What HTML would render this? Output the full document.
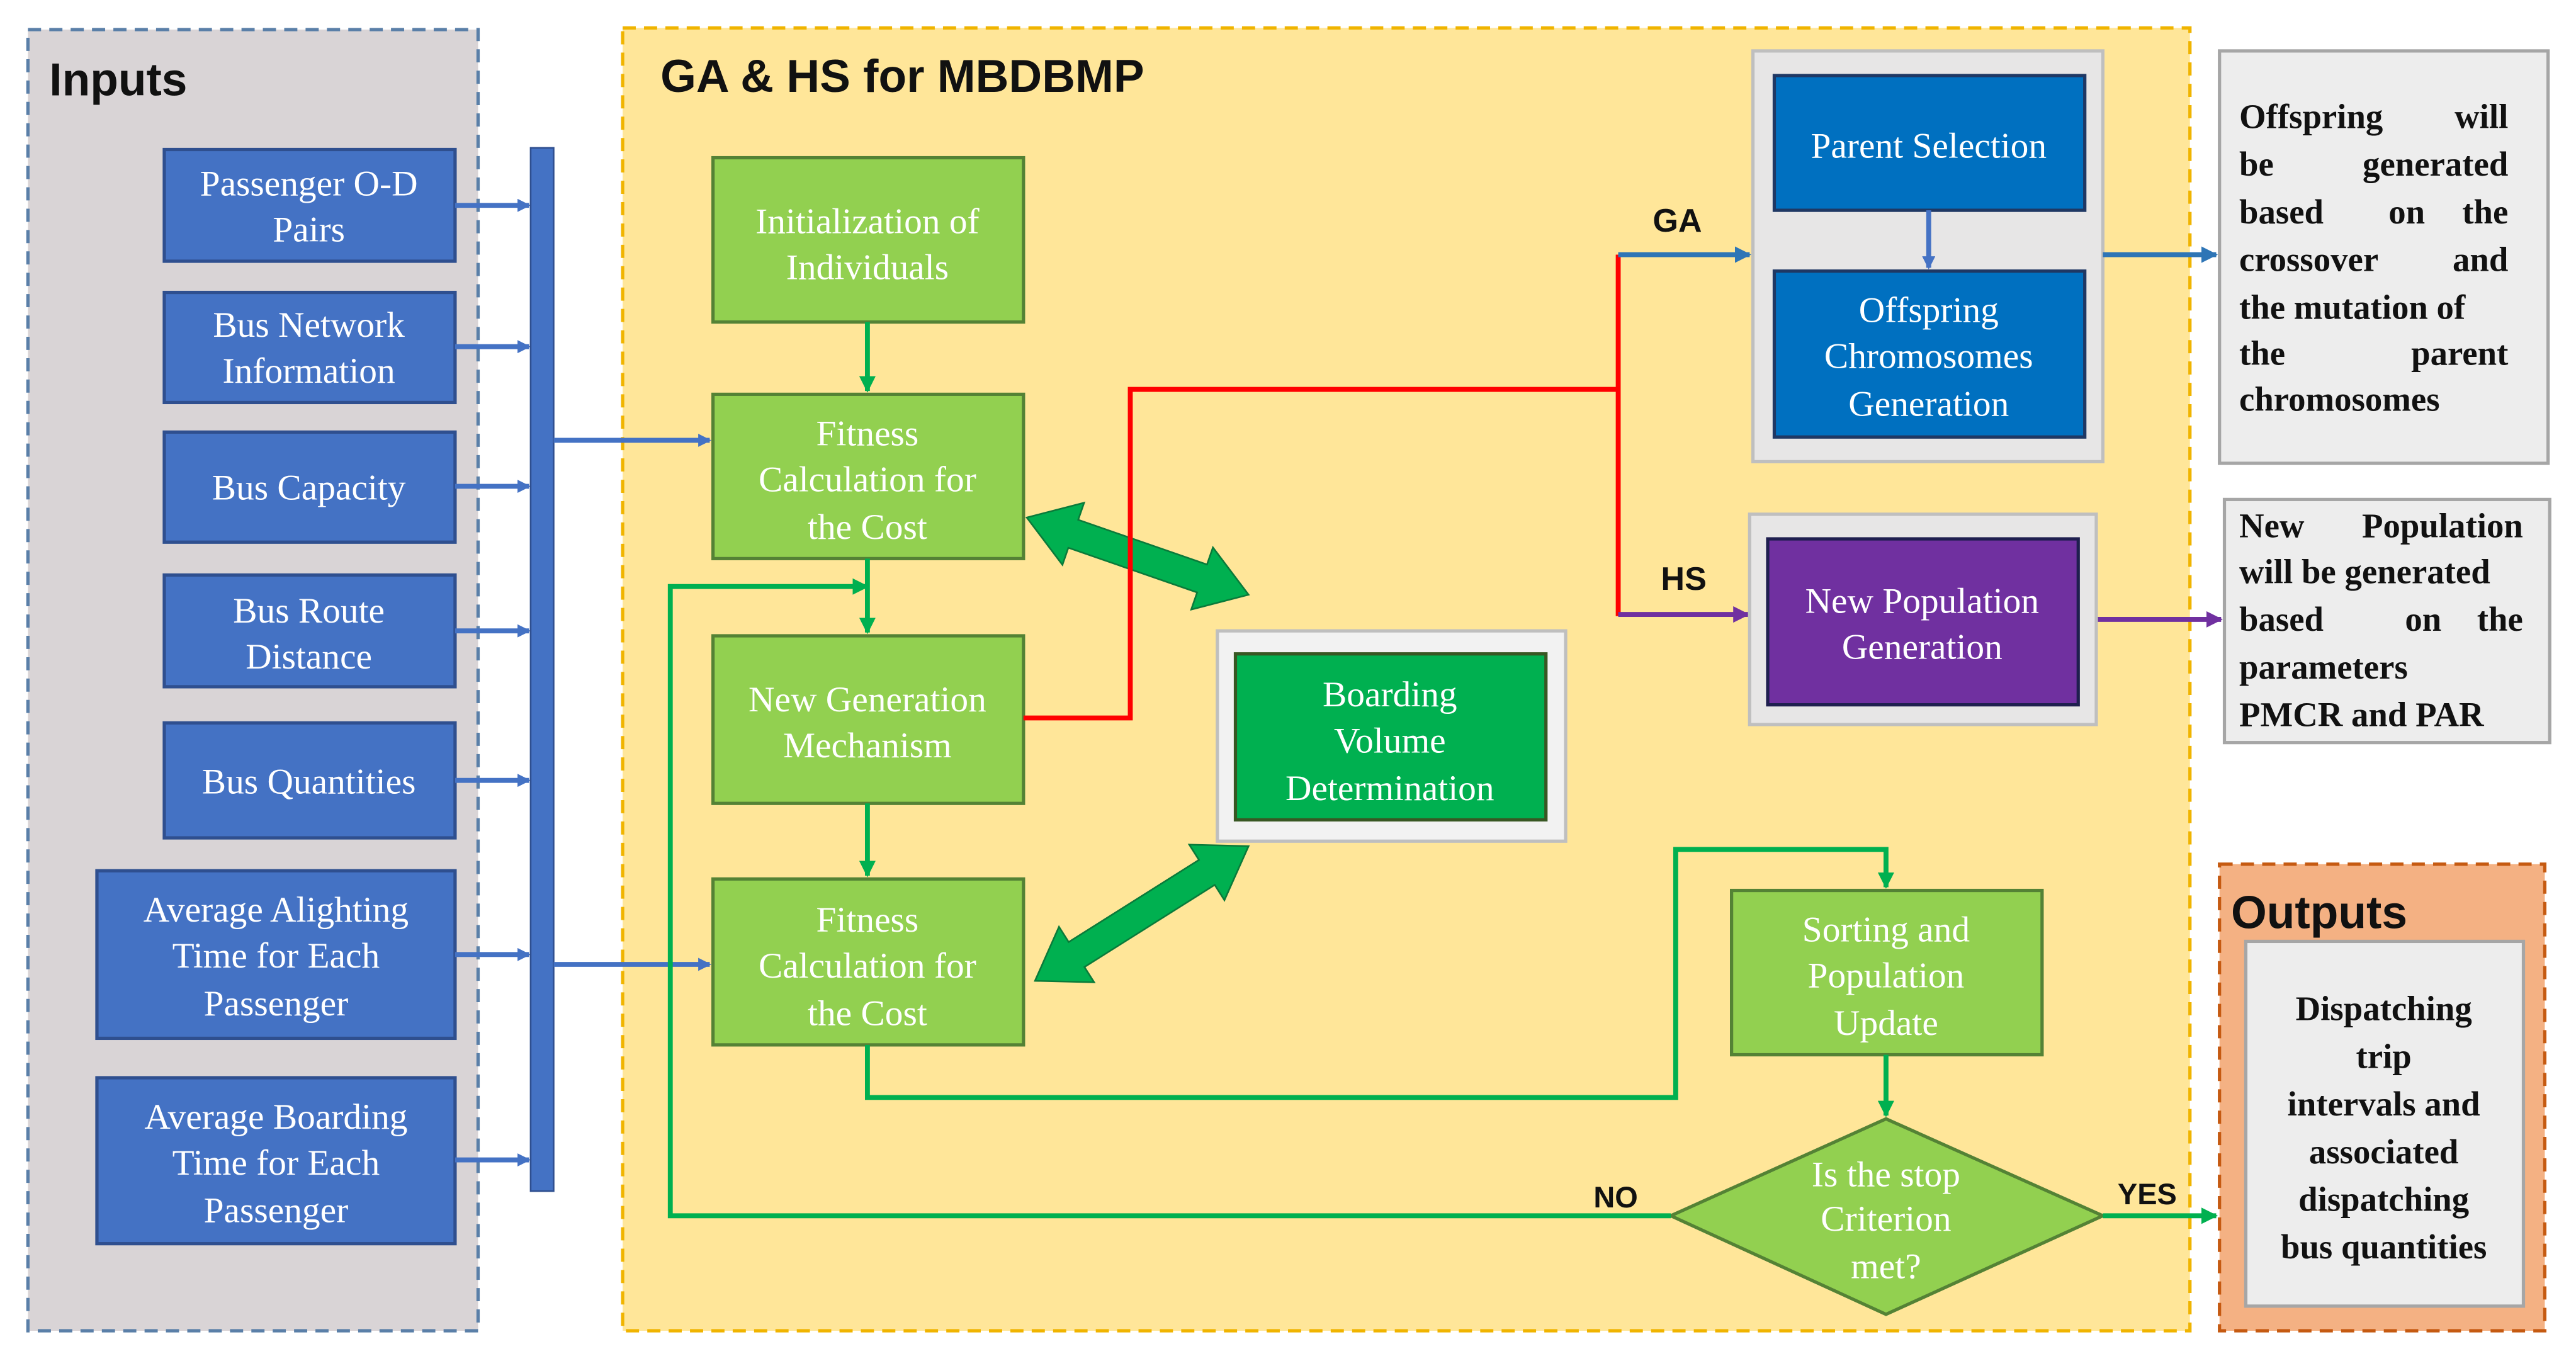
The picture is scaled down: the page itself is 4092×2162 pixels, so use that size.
<!DOCTYPE html>
<html><head><meta charset="utf-8"><style>
html,body{margin:0;padding:0;background:#fff;width:4092px;height:2162px;overflow:hidden}
svg{display:block}
.s{font-family:"Liberation Serif",serif;fill:#fff;font-size:22px;text-anchor:middle}
.b{font-family:"Liberation Sans",sans-serif;font-weight:bold;fill:#111}
.t{font-family:"Liberation Serif",serif;font-weight:bold;fill:#111;font-size:21px}
</style></head><body>
<svg width="4092" height="2162" viewBox="0 0 1568 828.4" preserveAspectRatio="none" xmlns="http://www.w3.org/2000/svg">
<defs>
<marker id="ab" markerWidth="8" markerHeight="8" refX="7" refY="4" orient="auto" markerUnits="userSpaceOnUse"><path d="M0,0 L8,4 L0,8z" fill="#4472c4"/></marker>
<marker id="ab2" markerWidth="10" markerHeight="10" refX="9" refY="5" orient="auto" markerUnits="userSpaceOnUse"><path d="M0,0 L10,5 L0,10z" fill="#2e75b6"/></marker>
<marker id="ag" markerWidth="10" markerHeight="10" refX="9" refY="5" orient="auto" markerUnits="userSpaceOnUse"><path d="M0,0 L10,5 L0,10z" fill="#00b050"/></marker>
<marker id="ap" markerWidth="10" markerHeight="10" refX="9" refY="5" orient="auto" markerUnits="userSpaceOnUse"><path d="M0,0 L10,5 L0,10z" fill="#7030a0"/></marker>
</defs>
<rect x="17" y="18" width="274" height="792" fill="#d9d4d6" stroke="#5a7fa8" stroke-width="2" stroke-dasharray="8,5"/>
<text x="30" y="58" class="b" font-size="28">Inputs</text>
<g fill="#4472c4" stroke="#2f4f8f" stroke-width="2">
<rect x="100" y="91" width="177" height="68"/><rect x="100" y="178" width="177" height="67"/>
<rect x="100" y="263" width="177" height="67"/><rect x="100" y="350" width="177" height="68"/>
<rect x="100" y="440" width="177" height="70"/><rect x="59" y="530" width="218" height="102"/>
<rect x="59" y="656" width="218" height="101"/></g>
<text class="s"><tspan x="188" y="119">Passenger O-D</tspan><tspan x="188" y="147">Pairs</tspan></text>
<text class="s"><tspan x="188" y="205">Bus Network</tspan><tspan x="188" y="233">Information</tspan></text>
<text class="s" x="188" y="304">Bus Capacity</text>
<text class="s"><tspan x="188" y="379">Bus Route</tspan><tspan x="188" y="407">Distance</tspan></text>
<text class="s" x="188" y="483">Bus Quantities</text>
<text class="s"><tspan x="168" y="561">Average Alighting</tspan><tspan x="168" y="589">Time for Each</tspan><tspan x="168" y="618">Passenger</tspan></text>
<text class="s"><tspan x="168" y="687">Average Boarding</tspan><tspan x="168" y="715">Time for Each</tspan><tspan x="168" y="744">Passenger</tspan></text>
<g stroke="#4472c4" stroke-width="3" marker-end="url(#ab)">
<line x1="277" y1="125" x2="322" y2="125"/><line x1="277" y1="211" x2="322" y2="211"/>
<line x1="277" y1="296" x2="322" y2="296"/><line x1="277" y1="384" x2="322" y2="384"/>
<line x1="277" y1="475" x2="322" y2="475"/><line x1="277" y1="581" x2="322" y2="581"/>
<line x1="277" y1="706" x2="322" y2="706"/></g>
<rect x="323" y="90" width="14" height="635" fill="#4472c4" stroke="#2f4f8f" stroke-width="1"/>
<rect x="379" y="17" width="954" height="793" fill="#ffe699" stroke="#f0b400" stroke-width="2" stroke-dasharray="8,5"/>
<text x="402" y="56" class="b" font-size="28">GA &amp; HS for MBDBMP</text>
<g stroke="#4472c4" stroke-width="3" marker-end="url(#ab)">
<line x1="337" y1="268" x2="432" y2="268"/><line x1="337" y1="587" x2="432" y2="587"/></g>
<g fill="#92d050" stroke="#548235" stroke-width="2">
<rect x="434" y="96" width="189" height="100"/><rect x="434" y="240" width="189" height="100"/>
<rect x="434" y="387" width="189" height="102"/><rect x="434" y="535" width="189" height="101"/>
<rect x="1054" y="542" width="189" height="100"/>
<polygon points="1148,681 1280,740 1148,800 1017,740"/></g>
<text class="s"><tspan x="528" y="142">Initialization of</tspan><tspan x="528" y="170">Individuals</tspan></text>
<text class="s"><tspan x="528" y="271">Fitness</tspan><tspan x="528" y="299">Calculation for</tspan><tspan x="528" y="328">the Cost</tspan></text>
<text class="s"><tspan x="528" y="433">New Generation</tspan><tspan x="528" y="461">Mechanism</tspan></text>
<text class="s"><tspan x="528" y="567">Fitness</tspan><tspan x="528" y="595">Calculation for</tspan><tspan x="528" y="624">the Cost</tspan></text>
<text class="s"><tspan x="1148" y="573">Sorting and</tspan><tspan x="1148" y="601">Population</tspan><tspan x="1148" y="630">Update</tspan></text>
<text class="s"><tspan x="1148" y="722">Is the stop</tspan><tspan x="1148" y="749">Criterion</tspan><tspan x="1148" y="778">met?</tspan></text>
<rect x="741" y="384" width="212" height="128" fill="#f2f2f2" stroke="#bfbfbf" stroke-width="2"/>
<rect x="752" y="398" width="189" height="101" fill="#00b050" stroke="#385723" stroke-width="2"/>
<text class="s"><tspan x="846" y="430">Boarding</tspan><tspan x="846" y="458">Volume</tspan><tspan x="846" y="487">Determination</tspan></text>
<g fill="#00b050" stroke="#0a7a3a" stroke-width="1">
<polygon points="625,315 659.9,306 656.3,316.4 734.7,343.6 738.3,333.2 760,362 725.1,371 728.7,360.6 650.3,333.4 646.7,343.8"/>
<polygon points="630,597 644.6,564.1 650.5,573.4 729.8,523.4 723.9,514.1 760,515 745.3,547.9 739.4,538.6 660.1,588.6 666,597.9"/>
</g>
<g stroke="#00b050" stroke-width="3" fill="none" marker-end="url(#ag)">
<line x1="528" y1="196" x2="528" y2="238"/><line x1="528" y1="340" x2="528" y2="385"/>
<line x1="528" y1="489" x2="528" y2="533"/>
<polyline points="528,636 528,668 1020,668 1020,517 1148,517 1148,540"/>
<line x1="1148" y1="642" x2="1148" y2="679"/>
<polyline points="1017,740 408,740 408,357 528,357"/>
<line x1="1280" y1="740" x2="1349" y2="740"/></g>
<text x="970" y="735" class="b" font-size="18">NO</text>
<text x="1289" y="733" class="b" font-size="18">YES</text>
<polyline points="623,437 688,437 688,237 985,237" stroke="#ff0000" stroke-width="3" fill="none"/>
<line x1="985" y1="155" x2="985" y2="375" stroke="#ff0000" stroke-width="3"/>
<line x1="985" y1="155" x2="1065" y2="155" stroke="#2e75b6" stroke-width="3" marker-end="url(#ab2)"/>
<line x1="985" y1="374" x2="1064" y2="374" stroke="#7030a0" stroke-width="3" marker-end="url(#ap)"/>
<text x="1006" y="141" class="b" font-size="20">GA</text>
<text x="1011" y="359" class="b" font-size="20">HS</text>
<rect x="1067" y="31" width="213" height="250" fill="#e7e6e6" stroke="#bfbfbf" stroke-width="2"/>
<rect x="1080" y="46" width="189" height="82" fill="#0070c0" stroke="#1f3864" stroke-width="2"/>
<rect x="1080" y="165" width="189" height="101" fill="#0070c0" stroke="#1f3864" stroke-width="2"/>
<line x1="1174" y1="128" x2="1174" y2="163" stroke="#4472c4" stroke-width="3" marker-end="url(#ab)"/>
<text class="s" x="1174" y="96">Parent Selection</text>
<text class="s"><tspan x="1174" y="196">Offspring</tspan><tspan x="1174" y="224">Chromosomes</tspan><tspan x="1174" y="253">Generation</tspan></text>
<line x1="1280" y1="155" x2="1349" y2="155" stroke="#2e75b6" stroke-width="3" marker-end="url(#ab2)"/>
<rect x="1351" y="31" width="200" height="251" fill="#ededed" stroke="#a6a6a6" stroke-width="2"/>
<text class="t"><tspan x="1363" y="78">Offspring</tspan><tspan x="1532" y="78" text-anchor="end">will</tspan>
<tspan x="1363" y="107">be</tspan><tspan x="1532" y="107" text-anchor="end">generated</tspan>
<tspan x="1363" y="136">based</tspan><tspan x="1465" y="136" text-anchor="middle">on</tspan><tspan x="1532" y="136" text-anchor="end">the</tspan>
<tspan x="1363" y="165">crossover</tspan><tspan x="1532" y="165" text-anchor="end">and</tspan>
<tspan x="1363" y="194">the mutation of</tspan>
<tspan x="1363" y="222">the</tspan><tspan x="1532" y="222" text-anchor="end">parent</tspan>
<tspan x="1363" y="250">chromosomes</tspan></text>
<rect x="1065" y="313" width="211" height="128" fill="#e7e6e6" stroke="#bfbfbf" stroke-width="2"/>
<rect x="1076" y="328" width="189" height="101" fill="#7030a0" stroke="#1f1f4f" stroke-width="2"/>
<text class="s"><tspan x="1170" y="373">New Population</tspan><tspan x="1170" y="401">Generation</tspan></text>
<line x1="1277" y1="377" x2="1352" y2="377" stroke="#7030a0" stroke-width="3" marker-end="url(#ap)"/>
<rect x="1354" y="304" width="198" height="148" fill="#ededed" stroke="#a6a6a6" stroke-width="2"/>
<text class="t"><tspan x="1363" y="327">New</tspan><tspan x="1541" y="327" text-anchor="end">Population</tspan>
<tspan x="1363" y="355">will be generated</tspan>
<tspan x="1363" y="384">based</tspan><tspan x="1475" y="384" text-anchor="middle">on</tspan><tspan x="1541" y="384" text-anchor="end">the</tspan>
<tspan x="1363" y="413">parameters</tspan>
<tspan x="1363" y="442">PMCR  and PAR</tspan></text>
<rect x="1351" y="526" width="198" height="284" fill="#f4b183" stroke="#c55a11" stroke-width="2" stroke-dasharray="8,5"/>
<text x="1358" y="565" class="b" font-size="28">Outputs</text>
<rect x="1367" y="573" width="169" height="222" fill="#ededed" stroke="#a6a6a6" stroke-width="2"/>
<text class="t" text-anchor="middle"><tspan x="1451" y="621">Dispatching</tspan><tspan x="1451" y="650">trip</tspan><tspan x="1451" y="679">intervals and</tspan><tspan x="1451" y="708">associated</tspan><tspan x="1451" y="737">dispatching</tspan><tspan x="1451" y="766">bus quantities</tspan></text>
</svg>
</body></html>
